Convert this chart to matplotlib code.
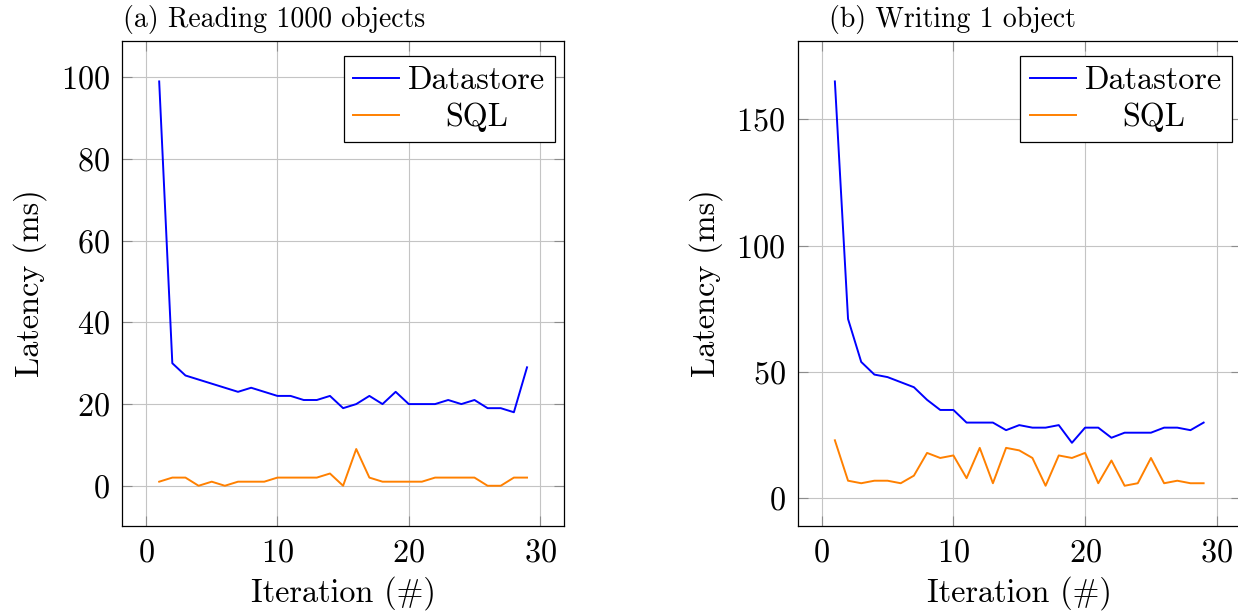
import numpy as np
import matplotlib
matplotlib.use("Agg")
import matplotlib.pyplot as plt

## data
iterations = list(range(1, 30))

read_datastore = [99, 30, 27, 26, 25, 24, 23, 24, 23, 22, 22, 21, 21, 22, 19,
                  20, 22, 20, 23, 20, 20, 20, 21, 20, 21, 19, 19, 18, 29]
read_sql = [1, 2, 2, 0, 1, 0, 1, 1, 1, 2, 2, 2, 2, 3, 0,
            9, 2, 1, 1, 1, 1, 2, 2, 2, 2, 0, 0, 2, 2]

write_datastore = [165, 71, 54, 49, 48, 46, 44, 39, 35, 35, 30, 30, 30, 27, 29,
                   28, 28, 29, 22, 28, 28, 24, 26, 26, 26, 28, 28, 27, 30]
write_sql = [23, 7, 6, 7, 7, 6, 9, 18, 16, 17, 8, 20, 6, 20, 19,
             16, 5, 17, 16, 18, 6, 15, 5, 6, 16, 6, 7, 6, 6]

titles = ["(a) Reading 1000 objects", "(b) Writing 1 object"]
series_names = ["Datastore", "SQL"]

## style
plt.rcParams['font.family'] = 'cmr10'
plt.rcParams['mathtext.fontset'] = 'cm'
plt.rcParams['axes.formatter.use_mathtext'] = True

W, H = 1238, 613
fig = plt.figure(figsize=(W / 100, H / 100), dpi=100)

fs = 23.2
title_fs = 20.0

# axes boxes in pixels (left, right), shared top/bottom
boxes = [(122.4, 563.8), (798.0, 1240.5)]
top_px, bot_px = 41.0, 526.2

panels = [(read_datastore, read_sql, (-9.9, 108.9), [0, 20, 40, 60, 80, 100]),
          (write_datastore, write_sql, (-11, 181), [0, 50, 100, 150])]

title_x = [123, 829.5]

for k, (ds, sq, ylim, yt) in enumerate(panels):
    l, r = boxes[k]
    ax = fig.add_axes([l / W, (H - bot_px) / H, (r - l) / W, (bot_px - top_px) / H])

    ax.plot(iterations, ds, color='#0000ff', lw=1.4, label=series_names[0], zorder=3)
    ax.plot(iterations, sq, color='#ff8000', lw=1.4, label=series_names[1], zorder=3)

    ax.set_xlim(-1.8, 31.8)
    ax.set_ylim(*ylim)
    ax.set_xticks([0, 10, 20, 30])
    ax.set_yticks(yt)

    ax.grid(True, color='#c4c4c4', lw=0.8)
    ax.set_axisbelow(True)
    ax.tick_params(direction='in', length=7, width=0.8, color='#8c8c8c',
                   top=True, right=True, labelsize=fs, pad=9)
    for sp in ax.spines.values():
        sp.set_linewidth(0.9)

    ax.set_xlabel("Iteration (#)", fontsize=fs, labelpad=6)
    ax.set_ylabel("Latency (ms)", fontsize=fs, labelpad=10)

    # legend box: 10 px in from the right, 15 px down from the top
    leg = ax.legend(loc='upper right',
                    bbox_to_anchor=(1 - 9 / (r - l), 1 - 15.4 / (bot_px - top_px)),
                    borderaxespad=0, fontsize=fs, fancybox=False, framealpha=1,
                    edgecolor='black', handlelength=1.43, handletextpad=0.27,
                    borderpad=0.3, labelspacing=0.24)
    leg.get_frame().set_linewidth(0.9)

    fig.text(title_x[k] / W, 1 - 27.5 / H, titles[k], fontsize=title_fs,
             ha='left', va='baseline')

# center the legend labels inside their column, like pgfplots does
fig.canvas.draw()
renderer = fig.canvas.get_renderer()
for ax in fig.axes:
    texts = ax.get_legend().get_texts()
    widths = [t.get_window_extent(renderer).width for t in texts]
    wmax = max(widths)
    for t, w in zip(texts, widths):
        t.set_x((wmax - w) / 2)

fig.savefig("out.png", dpi=100)
